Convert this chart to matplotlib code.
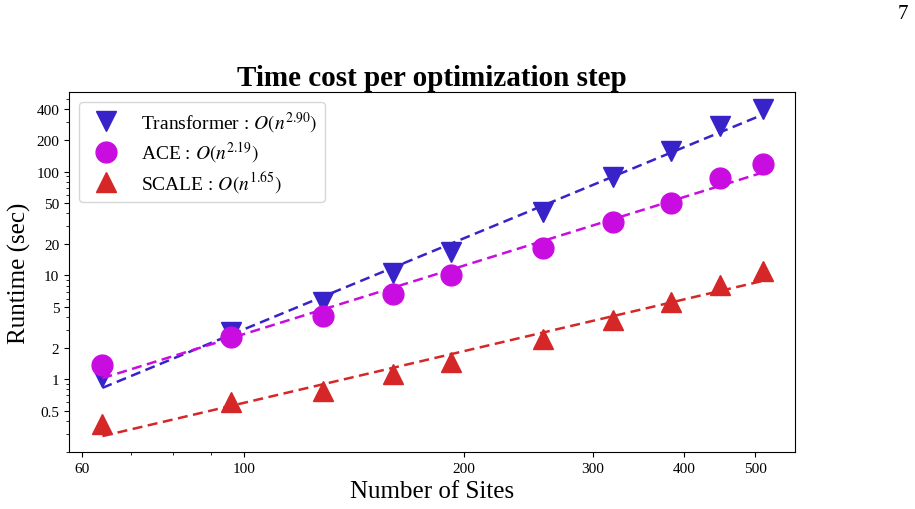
import numpy as np
import matplotlib.pyplot as plt
from matplotlib.ticker import FixedLocator, FixedFormatter, NullFormatter

plt.rcParams['font.family'] = ['Liberation Serif', 'DejaVu Serif']
plt.rcParams['mathtext.fontset'] = 'stix'

# data
n_sites = [64, 96, 128, 160, 192, 256, 320, 384, 448, 512]
t_transformer = [1.05, 2.83, 5.5, 10.5, 16.9, 41.0, 89.0, 157.0, 273.0, 403.0]
t_ace = [1.36, 2.54, 4.1, 6.56, 10.1, 18.2, 32.8, 50.3, 87.0, 119.0]
t_scale = [0.37, 0.60, 0.77, 1.12, 1.46, 2.44, 3.72, 5.6, 8.07, 11.1]

labels = ['Transformer : $O(n^{2.90})$', 'ACE : $O(n^{2.19})$', 'SCALE : $O(n^{1.65})$']
colors = ['#3823c9', '#c90de0', '#d62728']
markers = ['v', 'o', '^']

x_ticks = [60, 100, 200, 300, 400, 500]
y_ticks = [0.5, 1, 2, 5, 10, 20, 50, 100, 200, 400]
y_tick_labels = ['0.5', '1', '2', '5', '10', '20', '50', '100', '200', '400']

fig = plt.figure(figsize=(9.15, 5.1), dpi=100)
ax = fig.add_axes([0.0754, 0.1118, 0.7935, 0.7058])

x = np.array(n_sites, dtype=float)
for y, lab, c, m in zip([t_transformer, t_ace, t_scale], labels, colors, markers):
    y = np.array(y)
    # power-law fit in log-log space
    k, b = np.polyfit(np.log10(x), np.log10(y), 1)
    ax.plot(x, 10 ** (k * np.log10(x) + b), '--', color=c, lw=1.8, dashes=(4, 2.2))
    ax.plot(x, y, linestyle='none', marker=m, ms=15, color=c, label=lab)

ax.set_xscale('log')
ax.set_yscale('log')
ax.set_xlim(57.6, 567)
ax.set_ylim(0.2, 583)

ax.xaxis.set_major_locator(FixedLocator(x_ticks))
ax.xaxis.set_major_formatter(FixedFormatter([str(v) for v in x_ticks]))
ax.xaxis.set_minor_formatter(NullFormatter())
ax.yaxis.set_major_locator(FixedLocator(y_ticks))
ax.yaxis.set_major_formatter(FixedFormatter(y_tick_labels))
ax.yaxis.set_minor_formatter(NullFormatter())
ax.tick_params(labelsize=11)

ax.set_xlabel('Number of Sites', fontsize=18)
ax.set_ylabel('Runtime (sec)', fontsize=18)
ax.set_title('Time cost per optimization step', fontsize=21, fontweight='bold', pad=5)

ax.legend(loc='upper left', fontsize=14, handletextpad=0.8, borderpad=0.4,
          labelspacing=0.25)

# page number
fig.text(0.992, 0.99, '7', fontsize=15, ha='right', va='top')

fig.savefig('out.png', dpi=100)
